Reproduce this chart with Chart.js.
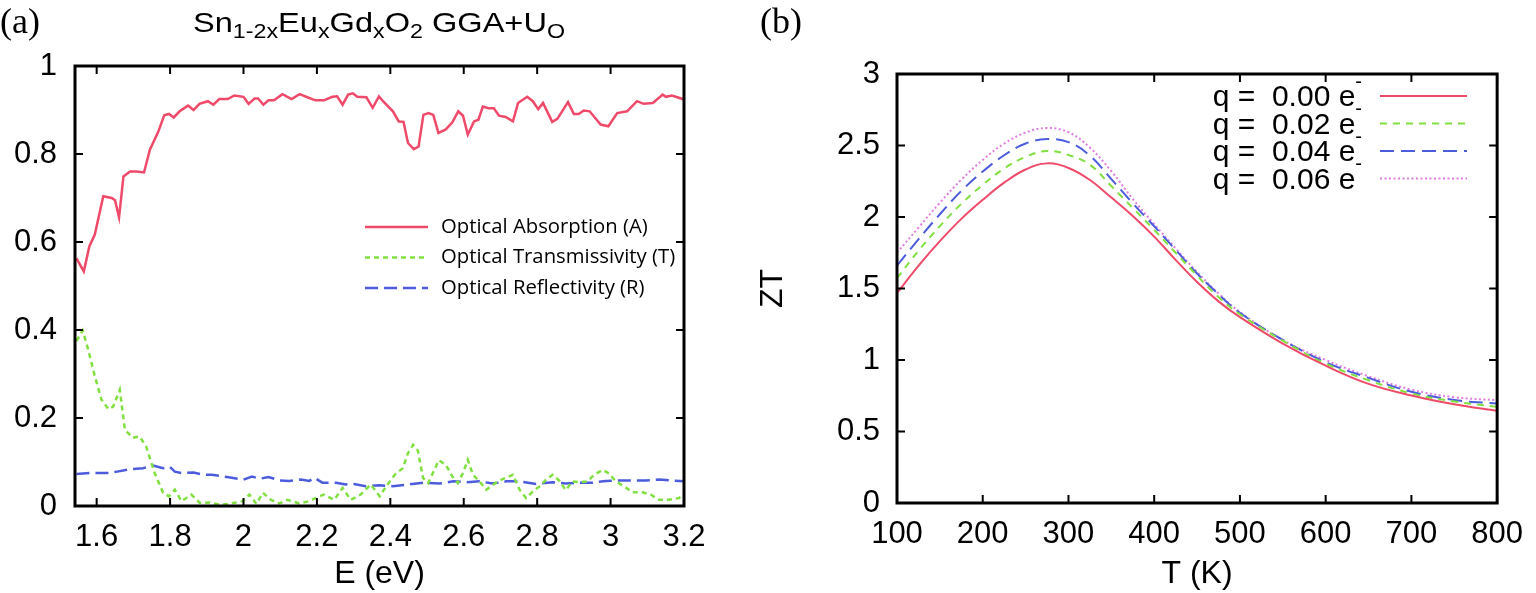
<!DOCTYPE html>
<html>
<head>
<meta charset="utf-8">
<script src="https://cdn.jsdelivr.net/npm/chart.js@4.4.0/dist/chart.umd.min.js"></script>
<style>
  html, body { margin: 0; padding: 0; background: #fff; }
  #wrap { position: relative; width: 1536px; height: 593px; overflow: hidden; }
  #chartA { position: absolute; left: 0; top: 0; }
  #chartB { position: absolute; left: 740px; top: 0; }
</style>
</head>
<body>
<div id="wrap">
  <canvas id="chartA" width="740" height="593"></canvas>
  <canvas id="chartB" width="796" height="593"></canvas>
</div>
<script>
// ---- panel (a): optical spectra, E in eV ----
const absE = [1.545, 1.565, 1.58, 1.595, 1.618, 1.641, 1.65, 1.661, 1.673, 1.691, 1.709, 1.729, 1.745, 1.768, 1.784, 1.797, 1.81, 1.826, 1.849, 1.864, 1.88, 1.903, 1.918, 1.934, 1.957, 1.975, 2.0, 2.014, 2.03, 2.04, 2.054, 2.068, 2.083, 2.106, 2.131, 2.153, 2.174, 2.196, 2.219, 2.242, 2.255, 2.27, 2.285, 2.298, 2.31, 2.335, 2.352, 2.369, 2.38, 2.407, 2.423, 2.436, 2.448, 2.464, 2.477, 2.49, 2.504, 2.517, 2.531, 2.551, 2.569, 2.585, 2.598, 2.611, 2.628, 2.64, 2.652, 2.667, 2.682, 2.696, 2.714, 2.734, 2.748, 2.773, 2.788, 2.803, 2.816, 2.841, 2.855, 2.884, 2.9, 2.913, 2.927, 2.943, 2.973, 2.994, 3.018, 3.045, 3.072, 3.09, 3.115, 3.142, 3.151, 3.167, 3.2];
const absorption = [0.563, 0.533, 0.59, 0.617, 0.704, 0.70, 0.695, 0.656, 0.749, 0.760, 0.760, 0.758, 0.810, 0.851, 0.888, 0.891, 0.883, 0.897, 0.910, 0.900, 0.914, 0.920, 0.912, 0.925, 0.925, 0.933, 0.930, 0.914, 0.926, 0.926, 0.912, 0.922, 0.922, 0.936, 0.925, 0.936, 0.929, 0.922, 0.922, 0.930, 0.931, 0.912, 0.935, 0.938, 0.930, 0.929, 0.905, 0.931, 0.92, 0.897, 0.874, 0.873, 0.825, 0.811, 0.817, 0.889, 0.893, 0.889, 0.848, 0.856, 0.872, 0.897, 0.887, 0.844, 0.874, 0.878, 0.908, 0.904, 0.904, 0.887, 0.884, 0.874, 0.916, 0.930, 0.920, 0.902, 0.916, 0.873, 0.880, 0.918, 0.891, 0.891, 0.899, 0.897, 0.867, 0.863, 0.893, 0.897, 0.920, 0.914, 0.916, 0.935, 0.930, 0.933, 0.924];

const transE = [1.545, 1.562, 1.577, 1.595, 1.613, 1.632, 1.645, 1.663, 1.677, 1.699, 1.717, 1.735, 1.758, 1.781, 1.797, 1.813, 1.831, 1.858, 1.881, 1.908, 1.935, 1.962, 1.998, 2.016, 2.035, 2.053, 2.075, 2.098, 2.12, 2.152, 2.174, 2.197, 2.219, 2.247, 2.27, 2.292, 2.319, 2.347, 2.371, 2.389, 2.412, 2.434, 2.448, 2.462, 2.475, 2.489, 2.503, 2.516, 2.532, 2.551, 2.569, 2.584, 2.598, 2.611, 2.625, 2.643, 2.661, 2.675, 2.693, 2.714, 2.734, 2.752, 2.770, 2.793, 2.808, 2.824, 2.842, 2.86, 2.878, 2.896, 2.914, 2.937, 2.955, 2.978, 2.996, 3.014, 3.037, 3.059, 3.087, 3.109, 3.132, 3.159, 3.186, 3.2];
const transmissivity = [0.375, 0.399, 0.355, 0.295, 0.242, 0.220, 0.226, 0.264, 0.173, 0.155, 0.158, 0.135, 0.075, 0.030, 0.022, 0.037, 0.011, 0.026, 0.007, 0.008, 0.003, 0.005, 0.011, 0.026, 0.005, 0.030, 0.014, 0.006, 0.014, 0.006, 0.010, 0.018, 0.026, 0.014, 0.041, 0.014, 0.026, 0.049, 0.022, 0.045, 0.071, 0.086, 0.120, 0.139, 0.126, 0.064, 0.052, 0.075, 0.104, 0.094, 0.067, 0.052, 0.075, 0.105, 0.071, 0.056, 0.037, 0.045, 0.056, 0.064, 0.071, 0.037, 0.018, 0.037, 0.045, 0.060, 0.071, 0.058, 0.036, 0.056, 0.054, 0.056, 0.071, 0.082, 0.074, 0.056, 0.045, 0.031, 0.031, 0.026, 0.014, 0.014, 0.018, 0.026];

const reflE = [1.545, 1.581, 1.636, 1.686, 1.726, 1.754, 1.781, 1.799, 1.813, 1.831, 1.864, 1.891, 1.914, 1.955, 2.0, 2.023, 2.045, 2.068, 2.098, 2.125, 2.157, 2.179, 2.193, 2.215, 2.252, 2.279, 2.301, 2.333, 2.369, 2.407, 2.443, 2.489, 2.535, 2.571, 2.607, 2.643, 2.679, 2.716, 2.752, 2.797, 2.842, 2.878, 2.914, 2.951, 2.987, 3.023, 3.059, 3.096, 3.132, 3.168, 3.2];
const reflectivity = [0.073, 0.075, 0.075, 0.083, 0.086, 0.092, 0.086, 0.089, 0.078, 0.075, 0.076, 0.071, 0.071, 0.066, 0.060, 0.067, 0.062, 0.066, 0.058, 0.057, 0.060, 0.057, 0.064, 0.053, 0.053, 0.049, 0.050, 0.045, 0.047, 0.045, 0.048, 0.053, 0.051, 0.056, 0.054, 0.056, 0.051, 0.056, 0.056, 0.050, 0.054, 0.051, 0.053, 0.053, 0.057, 0.058, 0.058, 0.058, 0.060, 0.058, 0.056];

const xTicksA = [1.6, 1.8, 2, 2.2, 2.4, 2.6, 2.8, 3, 3.2];
const yTicksA = [0, 0.2, 0.4, 0.6, 0.8, 1];
const labelsA = ['Optical Absorption (A)', 'Optical Transmissivity (T)', 'Optical Reflectivity (R)'];

// ---- panel (b): ZT vs temperature ----
const temps = [100, 125, 150, 175, 200, 225, 250, 275, 300, 325, 350, 375, 400, 425, 450, 475, 500, 550, 600, 650, 700, 750, 800];
const zt000 = [1.468, 1.658, 1.831, 1.987, 2.12, 2.24, 2.332, 2.375, 2.343, 2.259, 2.136, 2.007, 1.863, 1.70, 1.545, 1.41, 1.30, 1.115, 0.96, 0.833, 0.752, 0.69, 0.644];
const zt002 = [1.572, 1.763, 1.936, 2.092, 2.225, 2.339, 2.421, 2.462, 2.434, 2.365, 2.216, 2.063, 1.91, 1.75, 1.59, 1.44, 1.32, 1.135, 0.975, 0.858, 0.766, 0.71, 0.672];
const zt004 = [1.66, 1.844, 2.019, 2.182, 2.318, 2.432, 2.514, 2.545, 2.524, 2.429, 2.265, 2.096, 1.935, 1.77, 1.605, 1.46, 1.33, 1.14, 0.985, 0.875, 0.778, 0.72, 0.696];
const zt006 = [1.75, 1.925, 2.10, 2.261, 2.399, 2.513, 2.59, 2.622, 2.593, 2.485, 2.32, 2.126, 1.95, 1.78, 1.615, 1.465, 1.335, 1.14, 1.00, 0.886, 0.793, 0.74, 0.719];

const xTicksB = [100, 200, 300, 400, 500, 600, 700, 800];
const yTicksB = [0, 0.5, 1, 1.5, 2, 2.5, 3];
const labelsB = ['q =  0.00 e\u207B', 'q =  0.02 e\u207B', 'q =  0.04 e\u207B', 'q =  0.06 e\u207B'];

const RED = '#ef4a6a', GREEN = '#80e040', BLUE = '#4c5cdc', PINK = '#e07ce0';
const SANS = '"Liberation Sans", Arial, sans-serif';

const pairs = (xs, ys) => xs.map((x, i) => ({x: x, y: ys[i]}));

// gnuplot-like box with inward ticks on all four sides
const frame = {
  id: 'frame',
  afterDraw(chart, args, opts) {
    const {ctx, chartArea: a, scales: {x, y}} = chart;
    ctx.save();
    ctx.strokeStyle = '#000';
    ctx.lineWidth = 2;
    ctx.beginPath();
    x.ticks.forEach(t => {
      const px = x.getPixelForValue(t.value);
      ctx.moveTo(px, a.bottom); ctx.lineTo(px, a.bottom - opts.len);
      ctx.moveTo(px, a.top); ctx.lineTo(px, a.top + opts.len);
    });
    y.ticks.forEach(t => {
      const py = y.getPixelForValue(t.value);
      ctx.moveTo(a.left, py); ctx.lineTo(a.left + opts.len, py);
      ctx.moveTo(a.right, py); ctx.lineTo(a.right - opts.len, py);
    });
    ctx.stroke();
    ctx.lineWidth = 3;
    ctx.strokeRect(a.left, a.top, a.right - a.left, a.bottom - a.top);
    ctx.restore();
  }
};

// key drawn inside the plot
const key = {
  id: 'key',
  afterDraw(chart, args, opts) {
    const ctx = chart.ctx;
    ctx.save();
    chart.data.datasets.forEach((ds, i) => {
      const y = opts.y + i * opts.gap;
      ctx.strokeStyle = ds.borderColor;
      ctx.lineWidth = ds.borderWidth;
      ctx.setLineDash(ds.borderDash || []);
      ctx.beginPath();
      ctx.moveTo(opts.line[0], y);
      ctx.lineTo(opts.line[1], y);
      ctx.stroke();
      ctx.setLineDash([]);
      ctx.fillStyle = '#000';
      ctx.textBaseline = 'middle';
      let text = ds.label;
      if (opts.sup && text.endsWith('\u207B')) {
        text = text.slice(0, -1);
        ctx.font = opts.supFont;
        ctx.textAlign = 'right';
        const sw = ctx.measureText('-').width;
        ctx.fillText('-', opts.textX, y - 14);
        ctx.font = opts.font;
        ctx.fillText(text, opts.textX - sw, y + 2);
      } else {
        ctx.font = opts.font;
        ctx.textAlign = opts.align;
        ctx.fillText(text, opts.textX, y);
      }
    });
    ctx.restore();
  }
};

// panel letters and the formula title
const heading = {
  id: 'heading',
  afterDraw(chart, args, opts) {
    const ctx = chart.ctx;
    ctx.save();
    ctx.fillStyle = '#000';
    ctx.textBaseline = 'alphabetic';
    ctx.textAlign = 'left';
    ctx.font = '36px "Liberation Serif", "Times New Roman", serif';
    ctx.fillText(opts.letter, opts.letterX, 33);
    if (opts.parts) {
      const main = '28px ' + SANS, sub = '20px ' + SANS;
      let w = 0;
      opts.parts.forEach(p => { ctx.font = p[1] ? sub : main; w += ctx.measureText(p[0]).width; });
      const sx = opts.width / w;
      ctx.translate(opts.cx - opts.width / 2, 32);
      ctx.scale(sx, 1);
      let x = 0;
      opts.parts.forEach(p => {
        ctx.font = p[1] ? sub : main;
        ctx.fillText(p[0], x, p[1] ? 6 : 0);
        x += ctx.measureText(p[0]).width;
      });
    }
    ctx.restore();
  }
};

const tickFont = {family: SANS, size: 31};
const titleFont = {family: SANS, size: 32};

function linearAxis(min, max, ticks, fit, titleText, pad) {
  return {
    type: 'linear', min: min, max: max,
    grid: {display: false, drawTicks: false},
    border: {display: false},
    afterBuildTicks: s => { s.ticks = ticks.map(v => ({value: v})); },
    afterFit: fit,
    ticks: {color: '#000', font: tickFont, padding: pad, autoSkip: false, maxRotation: 0,
            callback: v => String(v)},
    title: {display: !!titleText, text: titleText, color: '#000', font: titleFont,
            padding: {top: 14, bottom: 0}}
  };
}

new Chart(document.getElementById('chartA'), {
  type: 'line',
  data: {
    datasets: [
      {label: labelsA[0], data: pairs(absE, absorption), borderColor: RED, borderWidth: 2.5},
      {label: labelsA[1], data: pairs(transE, transmissivity), borderColor: GREEN, borderWidth: 2.5, borderDash: [5, 4]},
      {label: labelsA[2], data: pairs(reflE, reflectivity), borderColor: BLUE, borderWidth: 2.5, borderDash: [13, 6]}
    ]
  },
  options: {
    responsive: false, animation: false, devicePixelRatio: 1,
    layout: {padding: {top: 66, right: 56, left: 0, bottom: 0}},
    elements: {point: {radius: 0}, line: {tension: 0}},
    scales: {
      x: linearAxis(1.541, 3.2, xTicksA, s => { s.height = 87; }, 'E (eV)', 13),
      y: linearAxis(0, 1, yTicksA, s => { s.width = 75; }, '', 18)
    },
    plugins: {
      legend: {display: false},
      tooltip: {enabled: false},
      frame: {len: 8},
      key: {y: 227, gap: 30.5, line: [365, 428], textX: 441, align: 'left', font: '20.3px "Open Sans", sans-serif'},
      heading: {letter: '(a)', letterX: 0, cx: 379, width: 372,
        parts: [['Sn', 0], ['1-2x', 1], ['Eu', 0], ['x', 1], ['Gd', 0], ['x', 1], ['O', 0], ['2', 1], [' GGA+U', 0], ['O', 1]]}
    }
  },
  plugins: [frame, key, heading]
});

new Chart(document.getElementById('chartB'), {
  type: 'line',
  data: {
    datasets: [
      {label: labelsB[0], data: pairs(temps, zt000), borderColor: RED, borderWidth: 2},
      {label: labelsB[1], data: pairs(temps, zt002), borderColor: GREEN, borderWidth: 2, borderDash: [7, 6]},
      {label: labelsB[2], data: pairs(temps, zt004), borderColor: BLUE, borderWidth: 2, borderDash: [14, 7]},
      {label: labelsB[3], data: pairs(temps, zt006), borderColor: PINK, borderWidth: 2, borderDash: [2, 2.5]}
    ]
  },
  options: {
    responsive: false, animation: false, devicePixelRatio: 1,
    layout: {padding: {top: 74, right: 32, left: 0, bottom: 0}},
    elements: {point: {radius: 0}, line: {tension: 0.4}},
    scales: {
      x: linearAxis(100, 800, xTicksB, s => { s.height = 90; }, 'T (K)', 13),
      y: linearAxis(0, 3, yTicksB, s => { s.width = 157; }, 'ZT', 17)
    },
    plugins: {
      legend: {display: false},
      tooltip: {enabled: false},
      frame: {len: 8},
      key: {y: 96, gap: 27.5, line: [640, 727], textX: 622, sup: true,
            font: '30px ' + SANS, supFont: '20px ' + SANS},
      heading: {letter: '(b)', letterX: 20}
    }
  },
  plugins: [frame, key, heading]
});
</script>
</body>
</html>
